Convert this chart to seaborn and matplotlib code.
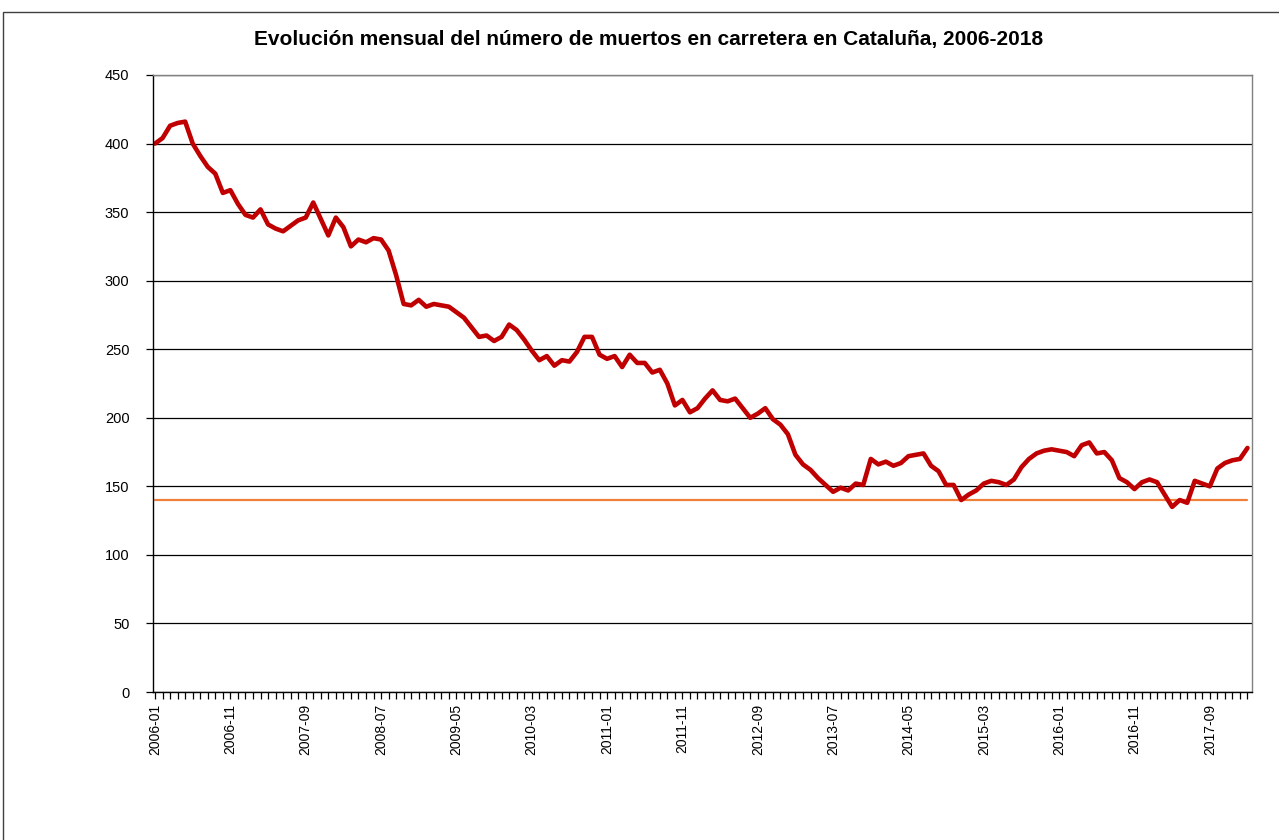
# plot.py
import seaborn as sns
import matplotlib.pyplot as plt
import matplotlib.patches as patches
from matplotlib.ticker import MultipleLocator, FixedLocator
import pandas as pd
import numpy as np

# --- 1. Data ---
months = [str(p) for p in pd.period_range("2006-01", periods=146, freq="M")]

deaths = [
    400, 404, 413, 415, 416, 400, 391, 383, 378, 364,
    366, 356, 348, 346, 352, 341, 338, 336, 340, 344,
    346, 357, 345, 333, 346, 339, 325, 330, 328, 331,
    330, 322, 304, 283, 282, 286, 281, 283, 282, 281,
    277, 273, 266, 259, 260, 256, 259, 268, 264, 257,
    249, 242, 245, 238, 242, 241, 248, 259, 259, 246,
    243, 245, 237, 246, 240, 240, 233, 235, 225, 209,
    213, 204, 207, 214, 220, 213, 212, 214, 207, 200,
    203, 207, 199, 195, 188, 173, 166, 162, 156, 151,
    146, 149, 147, 152, 151, 170, 166, 168, 165, 167,
    172, 173, 174, 165, 161, 151, 151, 140, 144, 147,
    152, 154, 153, 151, 155, 164, 170, 174, 176, 177,
    176, 175, 172, 180, 182, 174, 175, 169, 156, 153,
    148, 153, 155, 153, 144, 135, 140, 138, 154, 152,
    150, 163, 167, 169, 170, 178,
]
target = 140

df = pd.DataFrame({
    "idx": np.arange(len(months)),
    "mes": months,
    "muertos": deaths,
    "objetivo": [target] * len(months),
})

# --- 2. Styling ---
sns.set_style("white")
plt.rcParams["font.family"] = ["Liberation Sans", "DejaVu Sans"]
plt.rcParams["text.color"] = "black"
plt.rcParams["xtick.color"] = "black"
plt.rcParams["ytick.color"] = "black"

fig = plt.figure(figsize=(12.79, 8.40), dpi=100)
ax = fig.add_axes([153 / 1279, 148 / 840, 1099 / 1279, 617 / 840])

# --- 3. Lines ---
sns.lineplot(data=df, x="idx", y="objetivo", ax=ax, color="#F07F3C", linewidth=1.6)
sns.lineplot(data=df, x="idx", y="muertos", ax=ax, color="#C00000", linewidth=3.3)

# --- 4. Axes ---
ax.set_ylim(0, 450)
ax.set_xlim(-0.27, 145.6)
ax.yaxis.set_major_locator(MultipleLocator(50))
ax.grid(axis="y", color="black", linewidth=0.9)
ax.set_axisbelow(True)

label_pos = list(range(0, len(months), 10))
ax.xaxis.set_major_locator(FixedLocator(label_pos))
ax.xaxis.set_minor_locator(MultipleLocator(1))
ax.set_xticklabels([months[i] for i in label_pos], rotation=90, fontsize=10)
ax.tick_params(axis="y", labelsize=10.5, length=5, width=0.9, direction="out", left=True, pad=12)
ax.tick_params(axis="x", which="both", length=5, width=0.9, direction="out", bottom=True)
ax.set_xlabel("")
ax.set_ylabel("")

for side in ["left", "bottom"]:
    ax.spines[side].set_color("black")
    ax.spines[side].set_linewidth(1.0)
for side in ["top", "right"]:
    ax.spines[side].set_color("#808080")
    ax.spines[side].set_linewidth(1.0)

# --- 5. Title & chart border ---
fig.text(0.507, 1 - 40 / 840, "Evolución mensual del número de muertos en carretera en Cataluña, 2006-2018",
         ha="center", va="center", fontsize=15, weight="bold", color="black")
fig.patches.append(patches.Rectangle((3 / 1279, -10 / 840), 1300 / 1279, 838 / 840,
                                     transform=fig.transFigure, fill=False,
                                     edgecolor="#404040", linewidth=1.0))

# --- 6. Save ---
plt.savefig("out.png", dpi=100)
plt.close()
